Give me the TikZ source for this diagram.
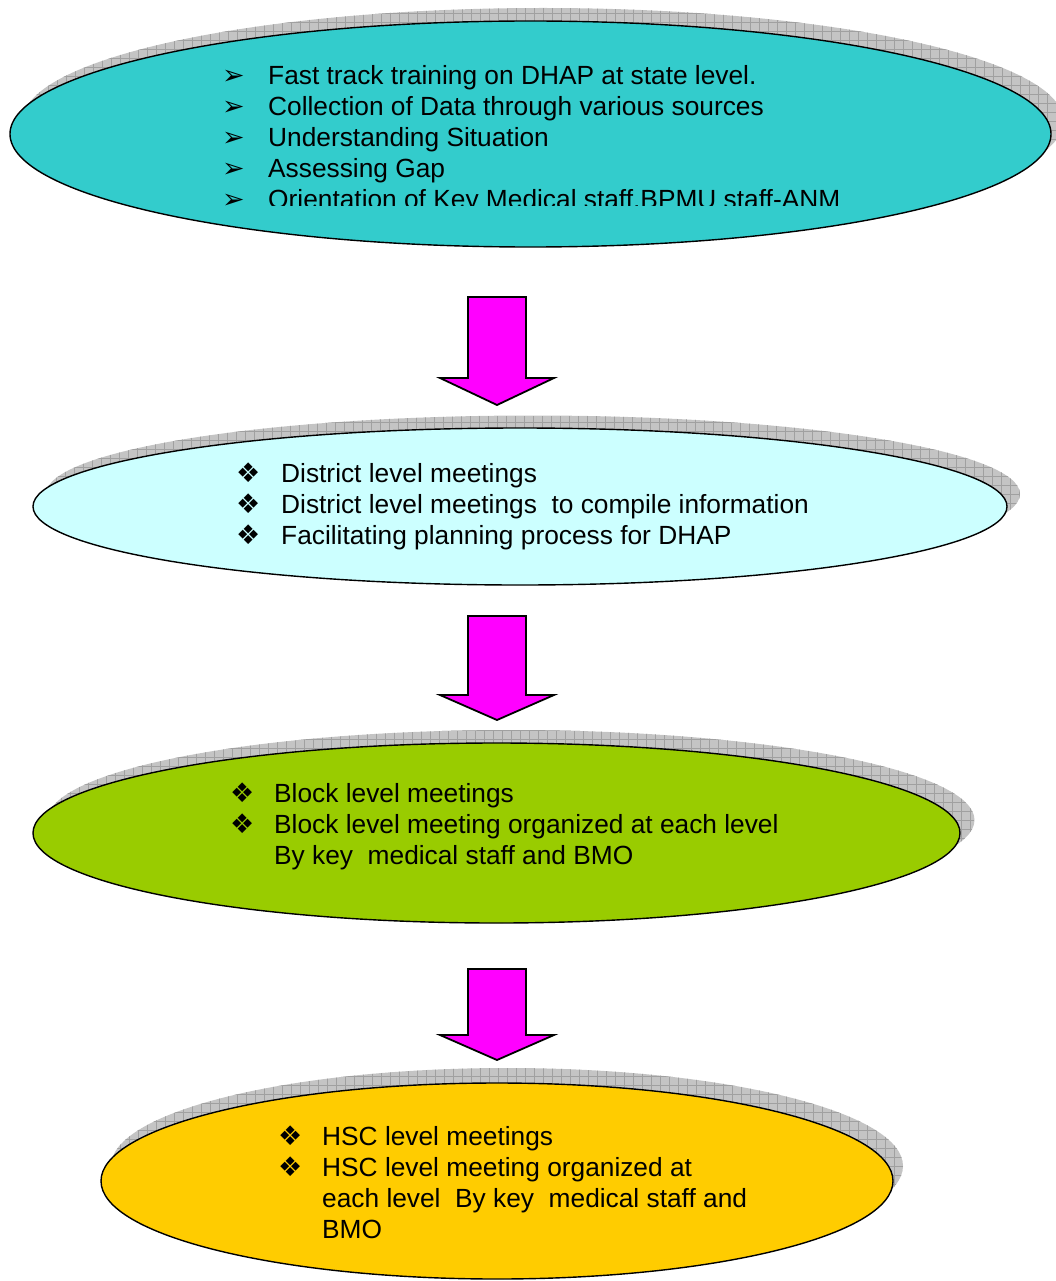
\documentclass[tikz,border=0pt]{standalone}
\usepackage{fontspec}
\setmainfont{Liberation Sans}
\newfontfamily\symfont{DejaVu Sans}
\usetikzlibrary{shapes.geometric}
\definecolor{cTeal}{RGB}{51,204,204}
\definecolor{cPale}{RGB}{204,255,255}
\definecolor{cLime}{RGB}{153,204,0}
\definecolor{cGold}{RGB}{255,204,0}
\definecolor{cMag}{RGB}{255,0,255}
\definecolor{cShadow}{RGB}{196,196,196}
\definecolor{cGrid}{RGB}{160,160,160}
\newcommand\bulA{{\symfont\fontsize{27}{27}\selectfont ➢}}
\newcommand\bulB{{\symfont\fontsize{27}{27}\selectfont ❖}}
\tikzset{
  shadowoval/.style={ellipse, inner sep=0pt, fill=cShadow,
    path picture={\draw[cGrid, line width=0.7pt, step=9pt]
      (path picture bounding box.south west) grid (path picture bounding box.north east);}},
  oval/.style={ellipse, draw=black, line width=1.4pt, inner sep=0pt},
  listtext/.style={anchor=base west, inner sep=0pt, font=\fontsize{26.3}{31}\selectfont},
  blockarrow/.style={fill=cMag, draw=black, line width=1.8pt, line join=miter},
}
\begin{document}
\begin{tikzpicture}[x=1pt, y=-1pt]
\useasboundingbox (0,0) rectangle (1056,1281);

% ---- box 1
\node[shadowoval, minimum width=1041pt, minimum height=226pt] (s1) at (543,121) {};
\node[oval, fill=cTeal, minimum width=1041pt, minimum height=226pt] (e1) at (530.5,134) {};
\begin{scope}
\clip (0,0) rectangle (1056,206);
\node[listtext] (t1) at (222,85) {\begin{tabular}[t]{@{}p{46pt}@{}l@{}}
\bulA & Fast track training on DHAP at state level.\\
\bulA & Collection of Data through various sources\\
\bulA & Understanding Situation\\
\bulA & Assessing Gap\\
\bulA & Orientation of Key Medical staff,BPMU staff-ANM
\end{tabular}};
\end{scope}

% ---- arrow 1
\draw[blockarrow] (468,297) -- (526,297) -- (526,378) -- (554,378) -- (497,405)
  -- (440,378) -- (468,378) -- cycle;

% ---- box 2
\node[shadowoval, minimum width=974pt, minimum height=157pt] (s2) at (533,494) {};
\node[oval, fill=cPale, minimum width=974pt, minimum height=157pt] (e2) at (520,506.5) {};
\node[listtext] (t2) at (236,482) {\begin{tabular}[t]{@{}p{45pt}@{}l@{}}
\bulB & District level meetings\\
\bulB & District level meetings\ \ to compile information\\
\bulB & Facilitating planning process for DHAP
\end{tabular}};

% ---- arrow 2
\draw[blockarrow] (468,616) -- (526,616) -- (526,695) -- (554,695) -- (497,720)
  -- (440,695) -- (468,695) -- cycle;

% ---- box 3
\node[shadowoval, minimum width=927pt, minimum height=180pt] (s3) at (511,820) {};
\node[oval, fill=cLime, minimum width=927pt, minimum height=180pt] (e3) at (496.5,833) {};
\node[listtext] (t3) at (230,802) {\begin{tabular}[t]{@{}p{44pt}@{}l@{}}
\bulB & Block level meetings\\
\bulB & Block level meeting organized at each level\\
 & By key\ \ medical staff and BMO
\end{tabular}};

% ---- arrow 3
\draw[blockarrow] (468,969) -- (526,969) -- (526,1035) -- (554,1035) -- (497,1060)
  -- (440,1035) -- (468,1035) -- cycle;

% ---- box 4
\node[shadowoval, minimum width=792pt, minimum height=196pt] (s4) at (507,1166) {};
\node[oval, fill=cGold, minimum width=792pt, minimum height=196pt] (e4) at (497,1181) {};
\node[listtext] (t4) at (278,1145) {\begin{tabular}[t]{@{}p{44pt}@{}l@{}}
\bulB & HSC level meetings\\
\bulB & HSC level meeting organized at\\
 & each level\ \ By key\ \ medical staff and\\
 & BMO
\end{tabular}};
\end{tikzpicture}
\end{document}
